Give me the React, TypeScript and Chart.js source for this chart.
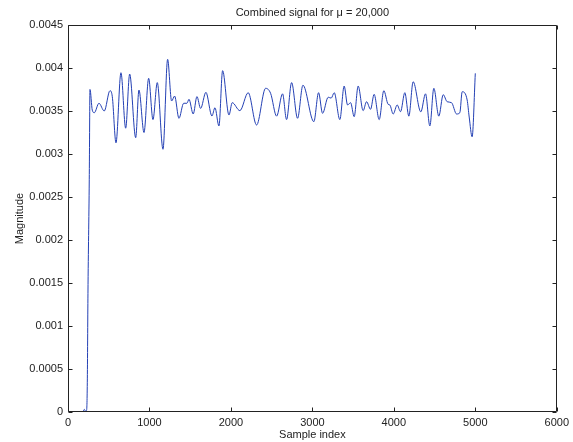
import React, { useEffect, useRef } from "react";
import { Chart, registerables } from "chart.js";

Chart.register(...registerables);

// Sample positions and the signal magnitude at each of them
const sampleIndex: number[] = [
  0, 150, 185, 200, 215, 228, 237, 245, 261, 270, 298, 323, 380, 445, 515, 544,
  589, 650, 708, 757, 831, 871, 933, 990, 1043, 1096, 1166, 1223, 1272, 1309,
  1362, 1420, 1460, 1485, 1537, 1583, 1628, 1693, 1767, 1804, 1853, 1898, 1976,
  2016, 2110, 2212, 2315, 2426, 2487, 2561, 2634, 2683, 2745, 2818, 2884, 3018,
  3076, 3125, 3194, 3231, 3268, 3337, 3390, 3432, 3469, 3513, 3562, 3623, 3665,
  3714, 3758, 3820, 3877, 3930, 3951, 3992, 4041, 4082, 4135, 4184, 4237, 4331,
  4389, 4442, 4491, 4552, 4606, 4654, 4708, 4770, 4810, 4839, 4900, 4925, 4961,
  5000,
];

const magnitude: number[] = [
  0, 0, 0.00001, 0.00003, 0.00001, 0.00002, 0.00034, 0.00138, 0.0027, 0.00375,
  0.00351, 0.00348, 0.00359, 0.0035, 0.003736, 0.003666, 0.00313, 0.003945,
  0.0033, 0.00393, 0.00319, 0.003744, 0.00325, 0.00388, 0.0034, 0.00383,
  0.003055, 0.0041, 0.003616, 0.003674, 0.003415, 0.00359, 0.00359, 0.003636,
  0.003465, 0.003667, 0.00353, 0.003717, 0.003442, 0.003538, 0.003326,
  0.003969, 0.003453, 0.003597, 0.003504, 0.003713, 0.003337, 0.003764,
  0.003706, 0.00344, 0.0037, 0.0034, 0.00383, 0.003415, 0.0038, 0.003376,
  0.003713, 0.003473, 0.00366, 0.00365, 0.003713, 0.0034, 0.00379, 0.00357,
  0.003597, 0.003434, 0.00379, 0.003504, 0.003608, 0.00352, 0.003694, 0.0034,
  0.003736, 0.003578, 0.00357, 0.003465, 0.00357, 0.003492, 0.003713, 0.00344,
  0.00384, 0.00349, 0.0037, 0.003326, 0.003764, 0.00344, 0.00369, 0.003608,
  0.003597, 0.003465, 0.00348, 0.003724, 0.003628, 0.00343, 0.0032, 0.003938,
];

const xTicks: number[] = [0, 1000, 2000, 3000, 4000, 5000, 6000];
const yTicks: number[] = [
  0, 0.0005, 0.001, 0.0015, 0.002, 0.0025, 0.003, 0.0035, 0.004, 0.0045,
];

const titleText = "Combined signal for \u03bc = 20,000";
const xLabel = "Sample index";
const yLabel = "Magnitude";

const FONT = '"Liberation Sans", Arial, sans-serif';
const INK = "#222222";

// Box around the axes, inward tick marks on all four sides, and the text labels
const framePlugin = {
  id: "frame",
  afterDraw(chart: any) {
    const { ctx, chartArea: a, scales } = chart;
    const L = Math.round(a.left) + 0.5;
    const R = Math.round(a.right) - 0.5;
    const T = Math.round(a.top) + 0.5;
    const B = Math.round(a.bottom) - 0.5;
    const tick = 4;
    ctx.save();
    ctx.strokeStyle = INK;
    ctx.lineWidth = 1;
    ctx.beginPath();
    ctx.rect(L, T, R - L, B - T);
    for (const v of xTicks) {
      const x = Math.round(scales.x.getPixelForValue(v)) + 0.5;
      ctx.moveTo(x, B);
      ctx.lineTo(x, B - tick);
      ctx.moveTo(x, T);
      ctx.lineTo(x, T + tick);
    }
    for (const v of yTicks) {
      const y = Math.round(scales.y.getPixelForValue(v)) + 0.5;
      ctx.moveTo(L, y);
      ctx.lineTo(L + tick, y);
      ctx.moveTo(R, y);
      ctx.lineTo(R - tick, y);
    }
    ctx.stroke();

    ctx.fillStyle = INK;
    ctx.font = `11px ${FONT}`;
    ctx.textAlign = "center";
    ctx.textBaseline = "middle";
    const cx = (a.left + a.right) / 2;
    ctx.fillText(titleText, cx, 13);
    ctx.fillText(xLabel, cx, 435);
    ctx.translate(20, (a.top + a.bottom) / 2);
    ctx.rotate(-Math.PI / 2);
    ctx.fillText(yLabel, 0, 0);
    ctx.restore();
  },
};

export default function App() {
  const canvasRef = useRef<HTMLCanvasElement | null>(null);

  useEffect(() => {
    const canvas = canvasRef.current;
    if (!canvas) return;
    const points = sampleIndex.map((x, i) => ({ x, y: magnitude[i] }));
    const chart = new Chart(canvas, {
      type: "line",
      data: {
        datasets: [
          {
            data: points,
            borderColor: "#2440b4",
            borderWidth: 1,
            pointRadius: 0,
            fill: false,
            cubicInterpolationMode: "monotone",
          },
        ],
      },
      options: {
        animation: false,
        responsive: false,
        devicePixelRatio: 1,
        layout: { padding: { left: 0, top: 25, right: 16, bottom: 0 } },
        plugins: {
          legend: { display: false },
          title: { display: false },
          tooltip: { enabled: false },
        },
        scales: {
          x: {
            type: "linear",
            min: 0,
            max: 6000,
            afterBuildTicks: (scale: any) => {
              scale.ticks = xTicks.map((value) => ({ value }));
            },
            afterFit: (scale: any) => {
              scale.height = 30;
            },
            grid: { display: false, drawTicks: false },
            border: { display: false },
            ticks: {
              padding: 4,
              color: INK,
              font: { family: FONT, size: 11 },
              maxRotation: 0,
              autoSkip: false,
              callback: (v: any) => String(v),
            },
          },
          y: {
            type: "linear",
            min: 0,
            max: 0.0045,
            afterBuildTicks: (scale: any) => {
              scale.ticks = yTicks.map((value) => ({ value }));
            },
            afterFit: (scale: any) => {
              scale.width = 68;
            },
            grid: { display: false, drawTicks: false },
            border: { display: false },
            ticks: {
              padding: 5,
              color: INK,
              font: { family: FONT, size: 11 },
              autoSkip: false,
              callback: (v: any) => String(+Number(v).toFixed(4)),
            },
          },
        },
      },
      plugins: [framePlugin],
    });
    return () => chart.destroy();
  }, []);

  return (
    <div
      style={{
        position: "absolute",
        left: 0,
        top: 0,
        width: 573,
        height: 442,
        background: "#ffffff",
      }}
    >
      <canvas
        ref={canvasRef}
        width={573}
        height={442}
        style={{ width: 573, height: 442, display: "block" }}
      />
    </div>
  );
}
